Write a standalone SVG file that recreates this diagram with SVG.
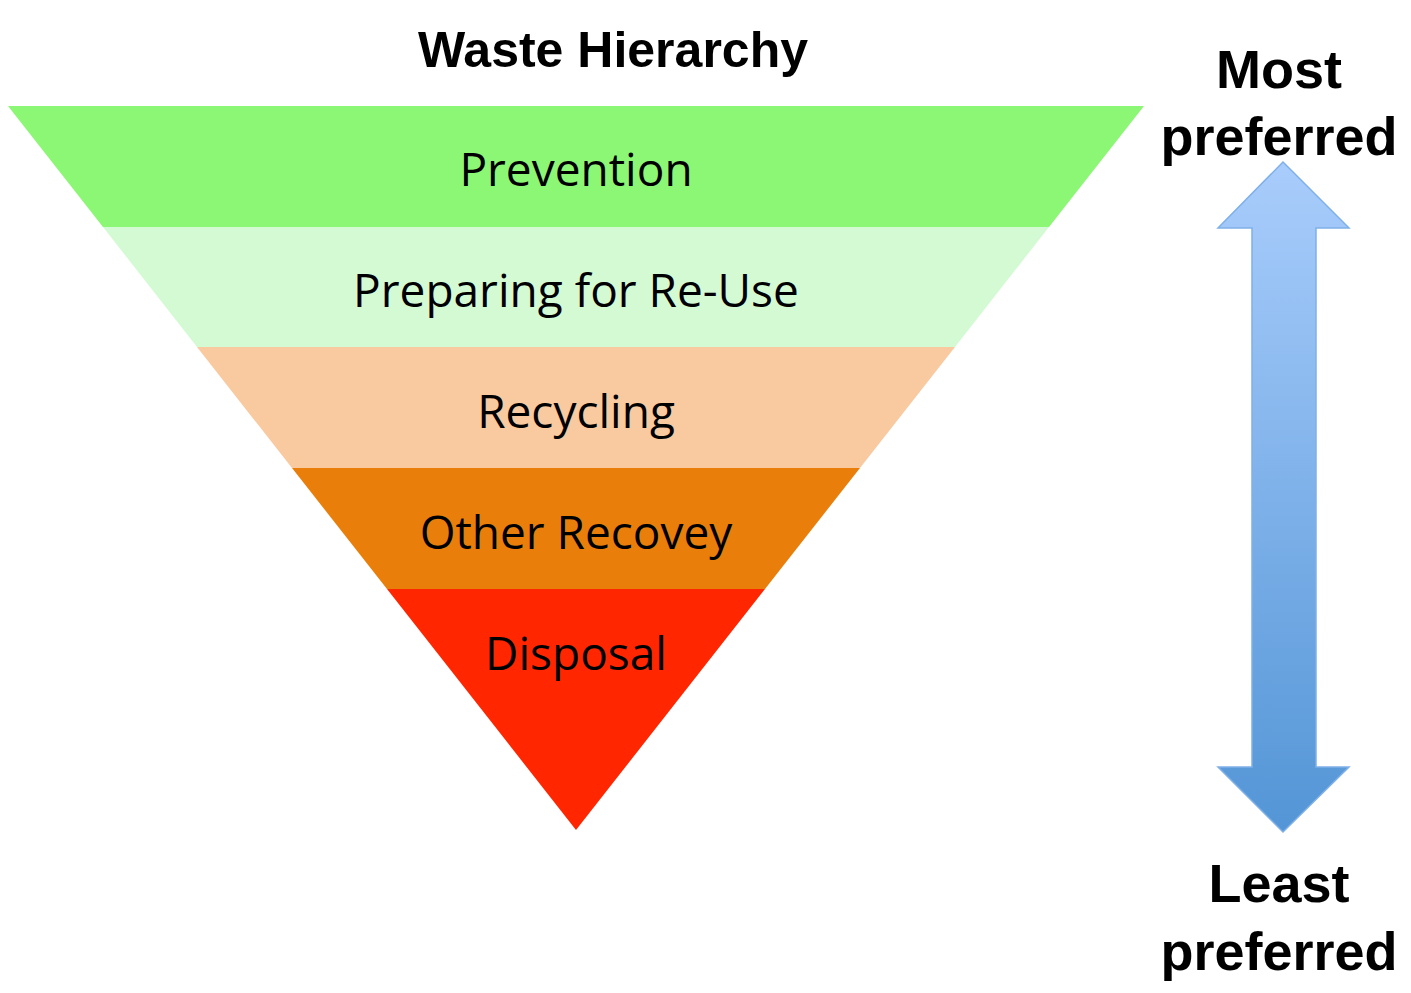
<svg xmlns="http://www.w3.org/2000/svg" width="1411" height="993" viewBox="0 0 1411 993">
<style>
.lbl{font-family:"Open Sans","Noto Sans",sans-serif;font-size:46px;fill:#000;text-anchor:middle}
.hd{font-family:"Liberation Sans",Arial,sans-serif;font-weight:bold;fill:#000;text-anchor:middle}
</style>
<defs>
<linearGradient id="g" x1="0" y1="0" x2="0" y2="1">
<stop offset="0" stop-color="#A9CDFC"/><stop offset="1" stop-color="#5395D6"/>
</linearGradient>
</defs>
<rect width="1411" height="993" fill="#fff"/>
<text class="hd" x="613" y="67" font-size="50">Waste Hierarchy</text>
<g id="prevention"><polygon points="8,106 1144,106 1049,227 103,227" fill="#8CF774"/><text class="lbl" x="576" y="186">Prevention</text></g>
<g id="reuse"><polygon points="103,227 1049,227 955,347 197,347" fill="#D4FAD4"/><text class="lbl" x="576" y="307">Preparing for Re-Use</text></g>
<g id="recycling"><polygon points="197,347 955,347 860,468 292,468" fill="#F9C9A0"/><text class="lbl" x="576" y="428">Recycling</text></g>
<g id="recovery"><polygon points="292,468 860,468 765,589 387,589" fill="#E97F0A"/><text class="lbl" x="576" y="549">Other Recovey</text></g>
<g id="disposal"><polygon points="387,589 765,589 576,830" fill="#FF2600"/><text class="lbl" x="576" y="670">Disposal</text></g>
<g id="connectors">
<polygon points="1283,162 1349,228 1316,228 1316,767 1349,767 1283,832 1218,767 1252,767 1252,228 1218,228" fill="url(#g)" stroke="#7FB0E8" stroke-width="1.5"/>
</g>
<g id="labels">
<text class="hd" x="1279" y="88" font-size="54">Most</text>
<text class="hd" x="1279" y="155" font-size="54">preferred</text>
<text class="hd" x="1279" y="902" font-size="54">Least</text>
<text class="hd" x="1279" y="970" font-size="54">preferred</text>
</g>
</svg>
